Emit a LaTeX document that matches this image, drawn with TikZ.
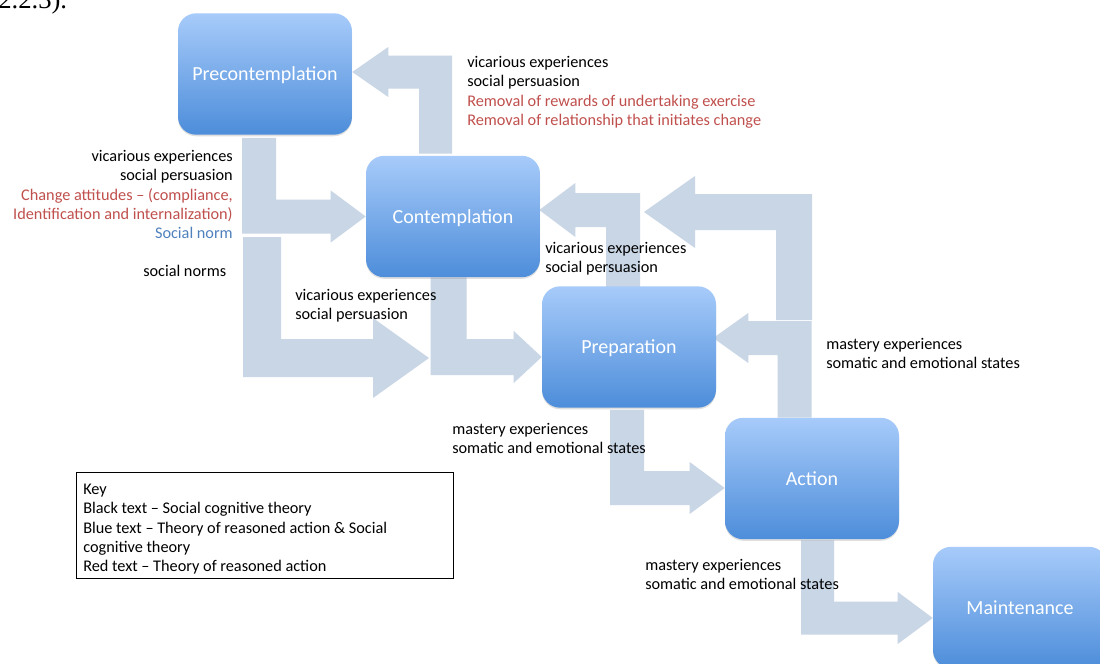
\documentclass[tikz,border=0pt]{standalone}
\usepackage{fontspec}
\setmainfont{Carlito}
\newfontfamily\headfont{Liberation Serif}
\usetikzlibrary{calc,shadows,backgrounds}

\definecolor{flowfill}{HTML}{C9D6E6}
\definecolor{stagetop}{HTML}{A7CBFA}
\definecolor{stagebot}{HTML}{4D8DDA}
\definecolor{txtred}{HTML}{C0504D}
\definecolor{txtblue}{HTML}{4F81BD}

% strut for the first line of a label block
\newcommand\lblstrut{\rule{0pt}{10pt}}

% L-shaped block arrow: vertical shaft from #1, then horizontal to the tip #2.
% #3 shaft half width, #4 head half width, #5 head length (all in px)
\newcommand\elbow[5]{%
  \fill[flow] let \p1=(#1), \p2=(#2),
      \n1={sign(\x2-\x1)}, \n2={sign(\y2-\y1)} in
    ({\x1+\n1*#3*0.75pt},\y1)
    -- ({\x1+\n1*#3*0.75pt},{\y2-\n2*#3*0.75pt})
    -- ({\x2-\n1*#5*0.75pt},{\y2-\n2*#3*0.75pt})
    -- ({\x2-\n1*#5*0.75pt},{\y2-\n2*#4*0.75pt})
    -- (\x2,\y2)
    -- ({\x2-\n1*#5*0.75pt},{\y2+\n2*#4*0.75pt})
    -- ({\x2-\n1*#5*0.75pt},{\y2+\n2*#3*0.75pt})
    -- ({\x1-\n1*#3*0.75pt},{\y2+\n2*#3*0.75pt})
    -- ({\x1-\n1*#3*0.75pt},\y1) -- cycle;}

\begin{document}
\begin{tikzpicture}[x=0.75pt,y=-0.75pt,
  flow/.style={fill=flowfill},
  stage/.style={rounded corners=13.5pt, minimum width=130.5pt, minimum height=91pt,
    top color=stagetop, bottom color=stagebot, draw=none, text=white,
    text depth=0pt, font=\fontsize{15}{18}\selectfont,
    drop shadow={shadow xshift=0pt, shadow yshift=-1.2pt, opacity=0.25}},
  lbl/.style={anchor=north west, inner sep=0pt, align=left,
    font=\fontsize{12.2}{14.5}\selectfont},
  lblr/.style={lbl, anchor=north east, align=right}]

\useasboundingbox (0,0) rectangle (1100,664);

% heading line of the page above the figure
\node[anchor=base west, inner sep=0pt, font=\headfont\fontsize{20}{24}\selectfont]
  (sec) at (-2,8) {2.2.3).};

% stages
\node[stage] (pre)  at (265,74)     {Precontemplation};
\node[stage] (con)  at (453,216.5)  {Contemplation};
\node[stage] (prep) at (629,347)    {Preparation};
\node[stage] (act)  at (812,478.5)  {Action};
\node[stage] (main) at (1020,607.5) {Maintenance};

% free ends of the arrows that do not touch a stage
\coordinate (norm0) at (262,237);
\coordinate (norm1) at (429,358);
\coordinate (back0) at (794,320);
\coordinate (back1) at (644,212);

% block arrows, behind the stages
\begin{scope}[on background layer]
\fill[white] (0,0) rectangle (1100,664);
\elbow{$(con.north)+(-17.5,-2)$}{$(pre.east)+(0,-2)$}{16.5}{25}{36}
\elbow{$(pre.south)+(-6,3)$}{con.west}{17}{26}{35}
\elbow{norm0}{norm1}{19}{40}{56}
\elbow{$(con.south)+(-4.5,0)$}{$(prep.west)+(0,10)$}{18}{26}{28}
\elbow{$(prep.north)+(-6,2)$}{$(con.east)+(-1,-6.5)$}{17}{27}{36}
\elbow{back0}{back1}{18}{36}{51}
\elbow{$(act.north)+(-17.5,0)$}{$(prep.east)+(-3,-9)$}{17}{25}{35}
\elbow{$(prep.south)+(-2,2)$}{$(act.west)+(0,9.5)$}{17}{26}{35}
\elbow{$(act.south)+(5.5,1)$}{$(main.west)+(0,10.5)$}{16.5}{26}{35}
\end{scope}

% arrow labels
\node[lbl] (t1) at (467,54) {\lblstrut vicarious experiences\\ social persuasion\\
  \textcolor{txtred}{Removal of rewards of undertaking exercise}\\
  \textcolor{txtred}{Removal of relationship that initiates change}};
\node[lblr] (t2) at (233,148) {\lblstrut vicarious experiences\\ social persuasion\\
  \textcolor{txtred}{Change attitudes – (compliance,}\\
  \textcolor{txtred}{Identification and internalization)}\\
  \textcolor{txtblue}{Social norm}};
\node[lbl] (t3) at (143,263) {\lblstrut social norms};
\node[lbl] (t4) at (295,287) {\lblstrut vicarious experiences\\ social persuasion};
\node[lbl] (t5) at (545,240) {\lblstrut vicarious experiences\\ social persuasion};
\node[lbl] (t6) at (826,336) {\lblstrut mastery experiences\\ somatic and emotional states};
\node[lbl] (t7) at (452,421) {\lblstrut mastery experiences\\ somatic and emotional states};
\node[lbl] (t8) at (645,557) {\lblstrut mastery experiences\\ somatic and emotional states};

% key
\node[draw=black, line width=1pt, anchor=north west, inner sep=0pt,
  minimum width=282.75pt, minimum height=79.5pt] (key) at (76,472) {};
\node[lbl] (keytext) at (83,481) {\lblstrut Key\\ Black text – Social cognitive theory\\
  Blue text – Theory of reasoned action \& Social\\ cognitive theory\\
  Red text – Theory of reasoned action};
\end{tikzpicture}
\end{document}
